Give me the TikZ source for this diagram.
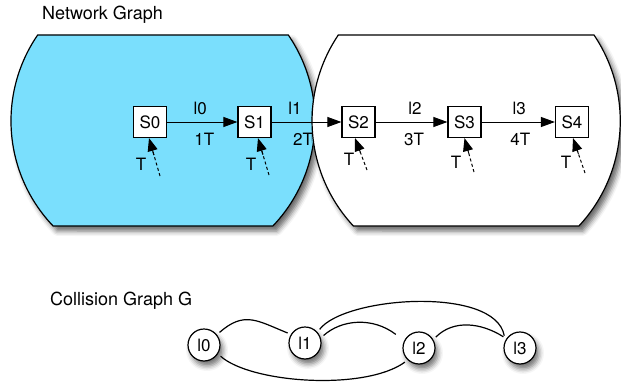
\documentclass[tikz,border=0pt]{standalone}
\usepackage{fontspec}
\setmainfont{TeX Gyre Heros}
\usetikzlibrary{arrows.meta,shadows.blur}
\definecolor{netblue}{RGB}{122,223,253}
\begin{document}
\begin{tikzpicture}[x=1pt,y=1pt,
  every node/.style={font=\fontsize{17}{20}\selectfont, inner sep=0pt},
  titletext/.style={anchor=base west, font=\fontsize{18}{21}\selectfont},
  region/.style={draw=black, line width=1.2pt,
    blur shadow={shadow xshift=4pt, shadow yshift=-5pt, shadow blur radius=5pt, shadow opacity=60}},
  sbox/.style={draw=black, fill=white, line width=1.2pt, minimum width=33pt, minimum height=31pt},
  link/.style={line width=1pt, -{Triangle[length=14pt,width=10pt,fill=black]}},
  trigline/.style={line width=1pt, dash pattern=on 3pt off 2.5pt, shorten >=11pt},
  trighead/.style={line width=1pt, solid, -{Triangle[length=13pt,width=10pt,fill=black]}},
  cnode/.style={circle, draw=black, fill=white, line width=1.2pt, minimum size=32pt, outer sep=4pt,
    blur shadow={shadow xshift=3pt, shadow yshift=-5pt, shadow blur radius=5pt, shadow opacity=55}},
  cedge/.style={line width=1.2pt}
]
\useasboundingbox (0,0) rectangle (621,381);

% regions
\path[region, fill=netblue] (288.3,346) arc[start angle=34.46, end angle=-43.70, radius=152]
  -- (53.1,155) arc[start angle=223.70, end angle=145.54, radius=152] -- cycle;
\path[region, fill=white] (594,346) arc[start angle=33.95, end angle=-42.99, radius=154]
  -- (353.4,155) arc[start angle=222.99, end angle=146.05, radius=154] -- cycle;

% titles
\node[titletext] (title1) at (42,361) {Network Graph};
\node[titletext] (title2) at (50,76) {Collision Graph G};

% stations
\node[sbox] (S0) at (150,259) {S0};
\node[sbox] (S1) at (254.5,259) {S1};
\node[sbox] (S2) at (358.5,259) {S2};
\node[sbox] (S3) at (464.5,259) {S3};
\node[sbox] (S4) at (572,259) {S4};

\draw[link] (S0) -- (S1) node[midway, xshift=-2pt, yshift=13.5pt] {l0} node[midway, xshift=2pt, yshift=-17.5pt] {1T};
\draw[link] (S1) -- (S2) node[midway, xshift=-11.5pt, yshift=13.5pt] {l1} node[midway, xshift=-3.5pt, yshift=-17.5pt] {2T};
\draw[link] (S2) -- (S3) node[midway, xshift=3.5pt, yshift=13.5pt] {l2} node[midway, xshift=2.5pt, yshift=-17.5pt] {3T};
\draw[link] (S3) -- (S4) node[midway, xshift=1pt, yshift=13.5pt] {l3} node[midway, xshift=2pt, yshift=-17.5pt] {4T};

% traffic arrivals
\coordinate (t0) at (160,205);
\coordinate (t1) at (269,206);
\coordinate (t2) at (367,211);
\coordinate (t3) at (474,209);
\coordinate (t4) at (585,208);
\coordinate (e0) at ([xshift=-1pt]S0.south);
\coordinate (e1) at ([xshift=3.5pt]S1.south);
\coordinate (e2) at ([xshift=-3.5pt]S2.south);
\coordinate (e3) at (S3.south);
\coordinate (e4) at ([xshift=1pt]S4.south);
\foreach \i in {0,...,4} {
  \draw[trigline] (t\i) -- (e\i);
  \path (t\i) -- (e\i) coordinate[pos=0.55] (h\i);
  \draw[trighead] (h\i) -- (e\i);
}
\node (T0) at (141,216.5) {T};
\node (T1) at (251,216.5) {T};
\node (T2) at (349,222) {T};
\node (T3) at (456,218.5) {T};
\node (T4) at (566,218.5) {T};

% collision graph
\node[cnode] (l0) at (204,36) {l0};
\node[cnode] (l1) at (305,38) {l1};
\node[cnode] (l2) at (419,33) {l2};
\node[cnode] (l3) at (520,33) {l3};

\draw[cedge] (l0.39) .. controls +(25,22) and +(-30,12) .. (l1.150);
\draw[cedge, shorten >=7pt] (l1.22) .. controls +(18,16) and +(-29,22) .. (l2.152);
\draw[cedge] (l1.43) .. controls +(25,33) and +(-9,50) .. (l3.142);
\draw[cedge] (l2.33) .. controls +(18,18) and +(-22,14) .. (l3.146);
\draw[cedge] (l0.-34.5) .. controls +(30,-27) and +(-40,-29) .. (l2.-135);
\end{tikzpicture}
\end{document}
